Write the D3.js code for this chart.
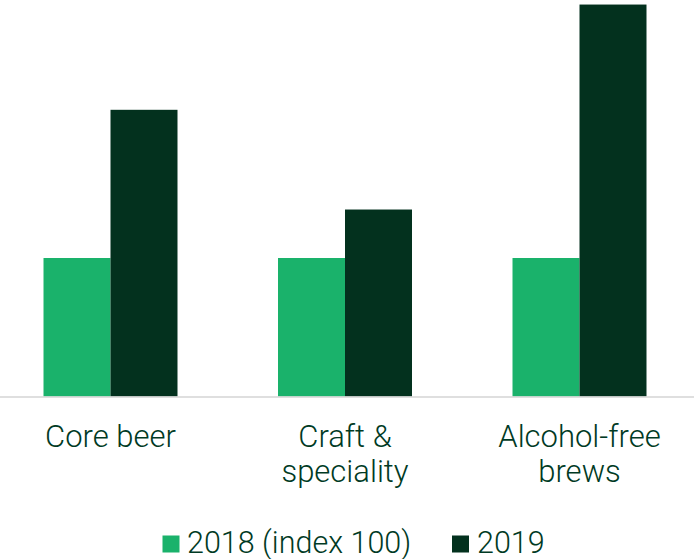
<!DOCTYPE html>
<html>
<head>
<meta charset="utf-8">
<script src="https://cdn.jsdelivr.net/npm/d3@7"></script>
<style>
  html, body { margin: 0; padding: 0; background: #fff; }
  svg { display: block; }
  text { font-family: Roboto, "Open Sans", sans-serif; font-weight: 300; fill: #003a24; }
</style>
</head>
<body>
<svg id="chart" width="694" height="559"></svg>
<script>
// Categories (label lines) and index values per year
const categories = ["Core beer", "Craft & speciality", "Alcohol-free brews"];
const categoryLines = [["Core beer"], ["Craft &", "speciality"], ["Alcohol-free", "brews"]];
const series = ["2018 (index 100)", "2019"];
const values2018 = [100, 100, 100];
const values2019 = [207, 135, 283];

const colors = ["#1ab26b", "#03311e"];

const W = 694, H = 559;
const baseY = 396.5;
const svg = d3.select("#chart");

const x0 = d3.scaleBand()
  .domain(categories)
  .range([-6.75, 696.75])
  .paddingInner(0.4286)
  .paddingOuter(0.2143);

const x1 = d3.scaleBand()
  .domain(series)
  .range([0, x0.bandwidth()]);

const y = d3.scaleLinear()
  .domain([0, 100])
  .range([baseY, 258]);

const rows = categories.map((c, i) => ({
  cat: c,
  vals: [values2018[i], values2019[i]]
}));

const groups = svg.append("g").selectAll("g")
  .data(rows)
  .join("g")
  .attr("transform", d => `translate(${x0(d.cat)},0)`);

groups.selectAll("rect")
  .data(d => d.vals.map((v, j) => ({ s: series[j], v, j })))
  .join("rect")
  .attr("x", d => x1(d.s))
  .attr("width", x1.bandwidth())
  .attr("y", d => y(d.v))
  .attr("height", d => baseY - y(d.v))
  .attr("fill", d => colors[d.j]);

// Baseline
svg.append("line")
  .attr("x1", 0).attr("x2", W)
  .attr("y1", baseY + 0.5).attr("y2", baseY + 0.5)
  .attr("stroke", "#d4d4d4")
  .attr("stroke-width", 1.5);

// Category labels
const labels = svg.append("g").selectAll("text")
  .data(categories)
  .join("text")
  .attr("x", d => x0(d) + x0.bandwidth() / 2)
  .attr("y", 447)
  .attr("text-anchor", "middle")
  .style("font-size", "31px");

labels.each(function(d, i) {
  d3.select(this).selectAll("tspan")
    .data(categoryLines[i])
    .join("tspan")
    .attr("x", x0(d) + x0.bandwidth() / 2)
    .attr("dy", (t, k) => k === 0 ? 0 : 35)
    .text(t => t);
});

// Legend
const legendItems = [
  { name: series[0], sx: 162.5, tx: 187 },
  { name: series[1], sx: 452, tx: 477 }
];
const legend = svg.append("g");
legendItems.forEach((it, i) => {
  legend.append("rect")
    .attr("x", it.sx).attr("y", 535.5)
    .attr("width", 17).attr("height", 17)
    .attr("fill", colors[i]);
  legend.append("text")
    .attr("x", it.tx).attr("y", 553)
    .style("font-size", "30.5px")
    .text(it.name);
});
</script>
</body>
</html>
